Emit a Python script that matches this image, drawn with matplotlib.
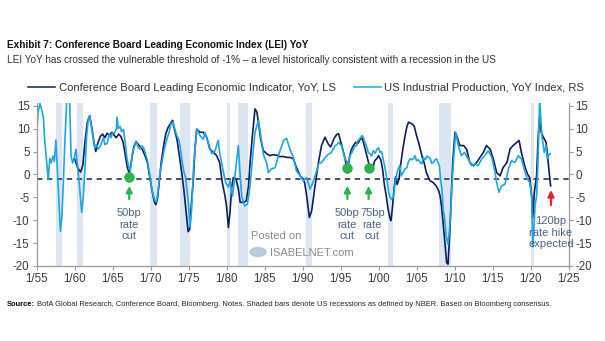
import matplotlib
matplotlib.use('Agg')
import matplotlib.pyplot as plt

# LEI YoY (dark, left scale): (year, value)
lei_points = [
    (1960.0, 3.5), (1960.4, 1.5), (1960.8, 0.5), (1961.1, 2.0), (1961.4, 7.5), (1961.7, 11.5),
    (1962.0, 12.8), (1962.3, 10.0), (1962.6, 6.5), (1962.8, 5.0), (1963.1, 7.0), (1963.4, 8.3),
    (1963.7, 8.8), (1964.0, 8.0), (1964.3, 9.0), (1964.6, 8.5), (1964.9, 9.2), (1965.2, 8.6),
    (1965.5, 8.0), (1965.8, 8.8), (1966.1, 8.3), (1966.4, 7.0), (1966.7, 4.0), (1966.95, 1.5),
    (1967.2, 0.3), (1967.5, 3.0), (1967.8, 6.0), (1968.1, 7.2), (1968.4, 6.5), (1968.7, 6.0),
    (1969.0, 5.2), (1969.3, 4.0), (1969.6, 2.5), (1969.9, -0.5), (1970.2, -3.5), (1970.5, -6.0),
    (1970.7, -6.6), (1970.9, -5.5), (1971.1, -2.5), (1971.4, 2.5), (1971.7, 6.0), (1972.0, 8.8),
    (1972.3, 10.2), (1972.6, 11.0), (1972.9, 11.8), (1973.2, 9.5), (1973.5, 7.5), (1973.8, 4.0),
    (1974.1, 0.5), (1974.4, -3.5), (1974.7, -8.5), (1974.95, -12.5), (1975.15, -12.0),
    (1975.4, -6.0), (1975.64, -1.0), (1975.85, 5.5), (1976.08, 9.9), (1976.5, 9.2),
    (1976.95, 9.2), (1977.4, 8.1), (1977.8, 5.5), (1978.3, 4.8), (1978.7, 4.1), (1979.1, 2.6),
    (1979.45, -1.8), (1979.8, -4.7), (1980.0, -6.9), (1980.25, -11.6), (1980.46, -8.3),
    (1980.7, -2.5), (1980.9, -0.7), (1981.25, -1.0), (1981.56, -3.2), (1981.8, -6.1),
    (1982.2, -6.1), (1982.6, -5.8), (1982.9, -2.5), (1983.1, 2.6), (1983.45, 9.2),
    (1983.75, 14.3), (1984.0, 13.6), (1984.2, 11.4), (1984.5, 7.7), (1984.85, 5.2),
    (1985.3, 4.5), (1985.7, 4.1), (1986.1, 4.3), (1986.6, 4.2), (1987.0, 3.9), (1987.5, 3.9),
    (1988.0, 3.7), (1988.4, 3.7), (1988.8, 3.4), (1989.2, 1.5), (1989.7, -0.3), (1990.1, -1.0),
    (1990.3, -2.0), (1990.55, -4.7), (1990.9, -9.4), (1991.2, -8.0), (1991.65, -2.5),
    (1992.1, 2.6), (1992.5, 6.3), (1992.96, 8.1), (1993.4, 6.6), (1993.7, 6.0), (1993.9, 6.8),
    (1994.2, 8.0), (1994.5, 8.7), (1994.75, 8.9), (1995.0, 7.3), (1995.3, 5.5), (1995.6, 3.5),
    (1995.9, 0.3), (1996.15, 3.5), (1996.4, 5.3), (1996.7, 6.3), (1997.0, 7.0), (1997.3, 6.8),
    (1997.6, 7.7), (1997.85, 7.9), (1998.1, 6.5), (1998.4, 4.5), (1998.7, 2.5), (1999.0, 1.0),
    (1999.2, 1.0), (1999.5, 3.0), (1999.8, 3.5), (2000.0, 4.1), (2000.3, 3.2), (2000.55, 1.0),
    (2000.75, -2.0), (2001.0, -4.5), (2001.25, -7.5), (2001.5, -9.5), (2001.65, -10.1),
    (2001.85, -7.0), (2002.05, -3.0), (2002.25, -0.5), (2002.45, -2.2), (2002.7, -1.0),
    (2002.95, 2.5), (2003.2, 5.5), (2003.5, 8.5), (2003.75, 10.5), (2003.95, 11.4),
    (2004.2, 11.2), (2004.45, 11.0), (2004.7, 10.5), (2005.0, 8.5), (2005.3, 6.8),
    (2005.5, 5.5), (2005.8, 3.5), (2006.0, 2.6), (2006.3, 0.4), (2006.6, -0.8), (2006.8, -1.4),
    (2007.2, -1.8), (2007.6, -2.5), (2007.9, -3.5), (2008.1, -4.7), (2008.3, -7.0),
    (2008.5, -10.5), (2008.7, -14.2), (2008.97, -19.3), (2009.15, -19.6), (2009.4, -12.0),
    (2009.6, -4.0), (2009.76, 2.6), (2010.06, 9.2), (2010.3, 8.4), (2010.7, 6.3), (2011.2, 6.3),
    (2011.6, 5.5), (2012.0, 2.6), (2012.5, 1.9), (2012.9, 2.6), (2013.35, 3.7), (2013.8, 4.8),
    (2014.2, 6.3), (2014.7, 5.5), (2015.1, 3.4), (2015.55, 0.4), (2016.0, -0.3), (2016.4, 1.5),
    (2016.9, 2.6), (2017.3, 5.5), (2017.7, 6.3), (2018.2, 7.0), (2018.5, 7.4), (2018.8, 4.8),
    (2019.3, 1.5), (2019.6, 0.1), (2019.9, -0.7), (2020.15, -4.7), (2020.3, -9.5),
    (2020.5, -4.0), (2020.8, -0.3), (2021.0, 7.8), (2021.15, 12.1), (2021.4, 9.2),
    (2021.7, 8.1), (2022.05, 7.0), (2022.2, 4.8), (2022.5, -0.3), (2022.65, -2.5),
]

# US industrial production YoY (light, right scale)
ip_points = [
    (1955.0, 8.0), (1955.2, 13.5), (1955.45, 15.5), (1955.7, 14.0), (1955.9, 12.5),
    (1956.1, 7.0), (1956.35, 2.5), (1956.55, -1.1), (1956.75, 3.5), (1956.95, 2.5),
    (1957.15, 4.0), (1957.35, 2.8), (1957.55, 7.5), (1957.75, 1.0), (1957.95, -6.0),
    (1958.15, -12.4), (1958.35, -9.0), (1958.55, -1.0), (1958.75, 8.0), (1958.95, 15.0),
    (1959.15, 18.0), (1959.35, 17.0), (1959.55, 4.0), (1959.75, 2.5), (1959.95, 3.5),
    (1960.2, 5.5), (1960.45, 1.0), (1960.7, -3.5), (1960.95, -8.3), (1961.15, -5.0),
    (1961.4, 2.0), (1961.6, 8.5), (1961.8, 11.7), (1962.0, 12.8), (1962.25, 10.0),
    (1962.5, 7.5), (1962.7, 5.8), (1962.9, 6.5), (1963.1, 5.5), (1963.4, 6.2), (1963.6, 7.0),
    (1963.8, 8.0), (1964.0, 6.5), (1964.3, 6.8), (1964.55, 8.8), (1964.8, 8.0), (1965.0, 9.2),
    (1965.25, 9.0), (1965.5, 9.9), (1965.6, 12.5), (1965.75, 10.0), (1966.0, 10.5),
    (1966.2, 9.3), (1966.45, 9.8), (1966.7, 6.5), (1966.9, 3.5), (1967.15, 1.5),
    (1967.35, 0.8), (1967.6, 4.5), (1967.85, 5.9), (1968.1, 7.2), (1968.35, 6.0),
    (1968.6, 5.5), (1968.85, 6.2), (1969.1, 5.8), (1969.35, 4.5), (1969.6, 3.0),
    (1969.85, 0.5), (1970.1, -2.5), (1970.35, -4.5), (1970.6, -5.8), (1970.8, -6.0),
    (1971.0, -3.5), (1971.25, 0.5), (1971.5, 2.5), (1971.75, 5.0), (1971.95, 6.3),
    (1972.2, 8.0), (1972.45, 9.2), (1972.7, 11.0), (1972.95, 11.4), (1973.2, 10.0),
    (1973.45, 8.5), (1973.7, 7.7), (1973.95, 5.5), (1974.15, 3.0), (1974.4, 0.5),
    (1974.6, -0.5), (1974.8, -3.5), (1975.0, -6.5), (1975.2, -11.6), (1975.4, -8.0),
    (1975.7, 2.6), (1976.1, 9.9), (1976.5, 8.5), (1976.95, 7.7), (1977.15, 9.2),
    (1977.6, 6.9), (1978.05, 4.5), (1978.5, 5.2), (1978.9, 7.4), (1979.1, 4.8), (1979.6, 0.4),
    (1979.9, -1.8), (1980.25, -2.8), (1980.46, -1.4), (1980.65, -3.5), (1980.8, -4.7),
    (1981.05, -1.0), (1981.3, 2.5), (1981.56, 6.3), (1981.75, 1.0), (1982.0, -4.7),
    (1982.4, -6.9), (1982.75, -6.5), (1983.1, -2.5), (1983.45, 4.1), (1983.75, 9.2),
    (1984.2, 11.8), (1984.5, 8.5), (1984.85, 4.4), (1985.3, 2.3), (1985.5, 0.4),
    (1985.95, 1.2), (1986.4, 1.5), (1986.7, 3.3), (1987.05, 5.2), (1987.5, 7.4),
    (1987.9, 7.9), (1988.35, 5.5), (1988.8, 3.7), (1989.2, 0.8), (1989.7, -0.3),
    (1990.1, -1.4), (1990.55, -0.7), (1991.0, -3.2), (1991.35, -1.8), (1991.8, 0.4),
    (1992.1, 2.3), (1992.5, 2.6), (1993.0, 3.7), (1993.4, 4.4), (1993.8, 4.8), (1994.05, 5.5),
    (1994.3, 6.3), (1994.55, 6.5), (1994.75, 7.0), (1995.0, 6.5), (1995.15, 6.3),
    (1995.4, 4.5), (1995.6, 3.4), (1995.85, 2.8), (1996.0, 2.3), (1996.25, 4.0),
    (1996.5, 4.8), (1996.7, 5.5), (1996.9, 6.3), (1997.1, 6.2), (1997.3, 7.4), (1997.55, 7.8),
    (1997.8, 8.5), (1998.0, 8.1), (1998.2, 7.0), (1998.4, 6.3), (1998.65, 4.8), (1998.9, 4.5),
    (1999.1, 4.0), (1999.3, 5.2), (1999.55, 4.6), (1999.8, 5.5), (2000.0, 5.8), (2000.2, 4.8),
    (2000.4, 5.0), (2000.6, 3.4), (2000.85, 1.5), (2001.1, -1.0), (2001.3, -3.5),
    (2001.45, -4.7), (2001.7, -5.4), (2001.95, -5.0), (2002.2, -1.8), (2002.45, 0.5),
    (2002.6, 1.2), (2002.8, 2.0), (2003.0, -0.3), (2003.25, 0.5), (2003.5, 1.2),
    (2003.75, 1.5), (2003.9, 2.6), (2004.15, 3.4), (2004.4, 3.2), (2004.6, 3.4), (2004.8, 4.1),
    (2005.0, 3.0), (2005.25, 3.2), (2005.5, 2.6), (2005.7, 2.3), (2005.9, 3.7), (2006.15, 3.2),
    (2006.4, 4.0), (2006.6, 3.7), (2006.8, 3.5), (2007.0, 2.4), (2007.25, 2.7), (2007.45, 3.2),
    (2007.65, 3.4), (2007.85, 2.5), (2008.0, 1.9), (2008.2, -1.5), (2008.35, -3.2),
    (2008.5, -7.6), (2008.7, -9.5), (2008.9, -13.4), (2009.15, -15.3), (2009.35, -12.0),
    (2009.5, -8.5), (2009.65, -3.0), (2009.85, 2.6), (2010.15, 9.2), (2010.5, 6.3),
    (2010.9, 4.1), (2011.3, 4.8), (2011.8, 3.4), (2012.25, 1.9), (2012.7, 2.3), (2013.1, 1.9),
    (2013.6, 3.4), (2014.0, 4.1), (2014.45, 5.2), (2014.9, 3.7), (2015.3, 0.8), (2015.55, -1.8),
    (2015.85, -3.9), (2016.2, -2.5), (2016.65, -2.1), (2017.1, 1.2), (2017.5, 3.0),
    (2017.95, 2.6), (2018.4, 4.1), (2018.8, 3.4), (2019.3, 0.4), (2019.6, -1.0),
    (2019.9, -1.8), (2020.15, -4.7), (2020.3, -15.8), (2020.45, -11.9), (2020.6, -6.9),
    (2020.8, -4.7), (2020.95, 1.0), (2021.1, 10.0), (2021.2, 16.5), (2021.5, 8.5),
    (2021.8, 4.8), (2022.05, 6.3), (2022.2, 3.4), (2022.5, 4.5), (2022.6, 4.5),
]

# NBER recessions (start, end)
rec_start = [1957.6, 1960.3, 1969.9, 1973.9, 1980.0, 1981.55, 1990.5, 2001.2, 2007.9, 2020.1]
rec_end = [1958.3, 1961.1, 1970.9, 1975.2, 1980.5, 1982.8, 1991.2, 2001.9, 2009.5, 2020.4]

xtick_years = list(range(1955, 2030, 5))
xtick_labels = ['1/' + str(y)[2:] for y in xtick_years]
ytick_values = [15, 10, 5, 0, -5, -10, -15, -20]

cut_years = [1967.2, 1995.9, 1998.7]
cut_dot_values = [-0.5, 1.4, 1.5]
cut_text_x = [1967.2, 1995.9, 1999.2]
cut_labels = ['50bp\nrate\ncut', '50bp\nrate\ncut', '75bp\nrate\ncut']
hike_year = 2022.7
threshold = -1

plt.rcParams['font.family'] = ['Liberation Sans', 'DejaVu Sans']
plt.rcParams['axes.unicode_minus'] = False

W, H = 605, 341


def fx(px):
    return px / W


def fy(py):
    return 1 - py / H


dark = '#0d1f5c'
light = '#1ea5e2'
shade = '#dce6f3'
note_col = '#4a6584'
green = '#2cb34a'

lei_x = [p[0] for p in lei_points]
lei_y = [p[1] for p in lei_points]
ip_x = [p[0] for p in ip_points]
ip_y = [p[1] for p in ip_points]

fig = plt.figure(figsize=(6.05, 3.41), dpi=100)
ax = fig.add_axes([fx(36.5), fy(266), fx(532), 163.5 / H])
ax2 = ax.twinx()

for s, e in zip(rec_start, rec_end):
    ax.axvspan(s, e, color=shade, lw=0, zorder=0)

ax.plot(lei_x, lei_y, color=dark, lw=1.2, zorder=3)
ax2.plot(ip_x, ip_y, color=light, lw=1.2, zorder=2)
ax.axhline(threshold, color='#1a2540', lw=1.1, ls=(0, (3.5, 3)), zorder=4)

for a in (ax, ax2):
    a.set_xlim(1955, 2025)
    a.set_ylim(-20, 15.7)
    a.set_yticks(ytick_values)
    a.set_yticklabels([str(v) for v in ytick_values])
    a.spines['top'].set_visible(False)
    for side in ('left', 'right', 'bottom'):
        a.spines[side].set_color('#9a9a9a')
        a.spines[side].set_linewidth(0.8)
    a.tick_params(axis='both', length=3, width=0.8, color='#9a9a9a',
                  labelsize=8.3, labelcolor='#3a3a3a', pad=2)
ax.set_xticks(xtick_years)
ax.set_xticklabels(xtick_labels)

# rate cuts / hike annotations
for x, yv, tx, lab in zip(cut_years, cut_dot_values, cut_text_x, cut_labels):
    ax2.plot([x], [yv], 'o', color=green, ms=6.5, zorder=6)
    ax2.annotate('', xy=(x, -1.9), xytext=(x, -6.0),
                 arrowprops=dict(arrowstyle='-|>', color=green, lw=1.6, mutation_scale=9),
                 zorder=6)
    ax2.text(tx, -11.0, lab, color=note_col, fontsize=8, ha='center', va='center',
             linespacing=1.2, zorder=6)
ax2.annotate('', xy=(hike_year, -2.8), xytext=(hike_year, -7.3),
             arrowprops=dict(arrowstyle='-|>', color='#e8202a', lw=1.6, mutation_scale=9),
             zorder=6)
ax2.text(hike_year, -12.7, '120bp\nrate hike\nexpected', color=note_col, fontsize=8,
         ha='center', va='center', linespacing=1.15, zorder=6)

# watermark
fig.text(fx(276), fy(236), 'Posted on', color='#8a8a8a', fontsize=8,
         ha='center', va='center')
fig.text(fx(270), fy(253), 'ISABELNET.com', color='#8a8a8a', fontsize=8,
         ha='left', va='center')
fig.patches.append(plt.Circle((fx(258), fy(252)), 0.013, transform=fig.transFigure,
                              color='#a9bfd1', alpha=0.8))

# titles
fig.text(fx(7), fy(45), 'Exhibit 7: Conference Board Leading Economic Index (LEI) YoY',
         fontsize=7.2, fontweight='bold', color='#111111', va='center')
fig.text(fx(7), fy(60), 'LEI YoY has crossed the vulnerable threshold of -1% \u2013 a level '
         'historically consistent with a recession in the US',
         fontsize=7.2, color='#333333', va='center')

h1, = ax.plot([], [], color=dark, lw=1.1)
h2, = ax.plot([], [], color=light, lw=1.1)
fig.legend([h1, h2], ['Conference Board Leading Economic Indicator, YoY, LS',
                      'US Industrial Production, YoY Index, RS'],
           loc='center', bbox_to_anchor=(fx(306), fy(88)), ncol=2, frameon=False,
           fontsize=8.1, handlelength=2.4, handletextpad=0.3, columnspacing=1.6,
           labelcolor='#333333', borderpad=0)

fig.text(fx(7), fy(305), 'Source:', fontsize=5.4, fontweight='bold', va='center')
fig.text(fx(37), fy(305), 'BofA Global Research, Conference Board, Bloomberg. Notes. Shaded '
         'bars denote US recessions as defined by NBER. Based on Bloomberg consensus.',
         fontsize=5.4, color='#222222', va='center')

fig.savefig('out.png', dpi=100)
